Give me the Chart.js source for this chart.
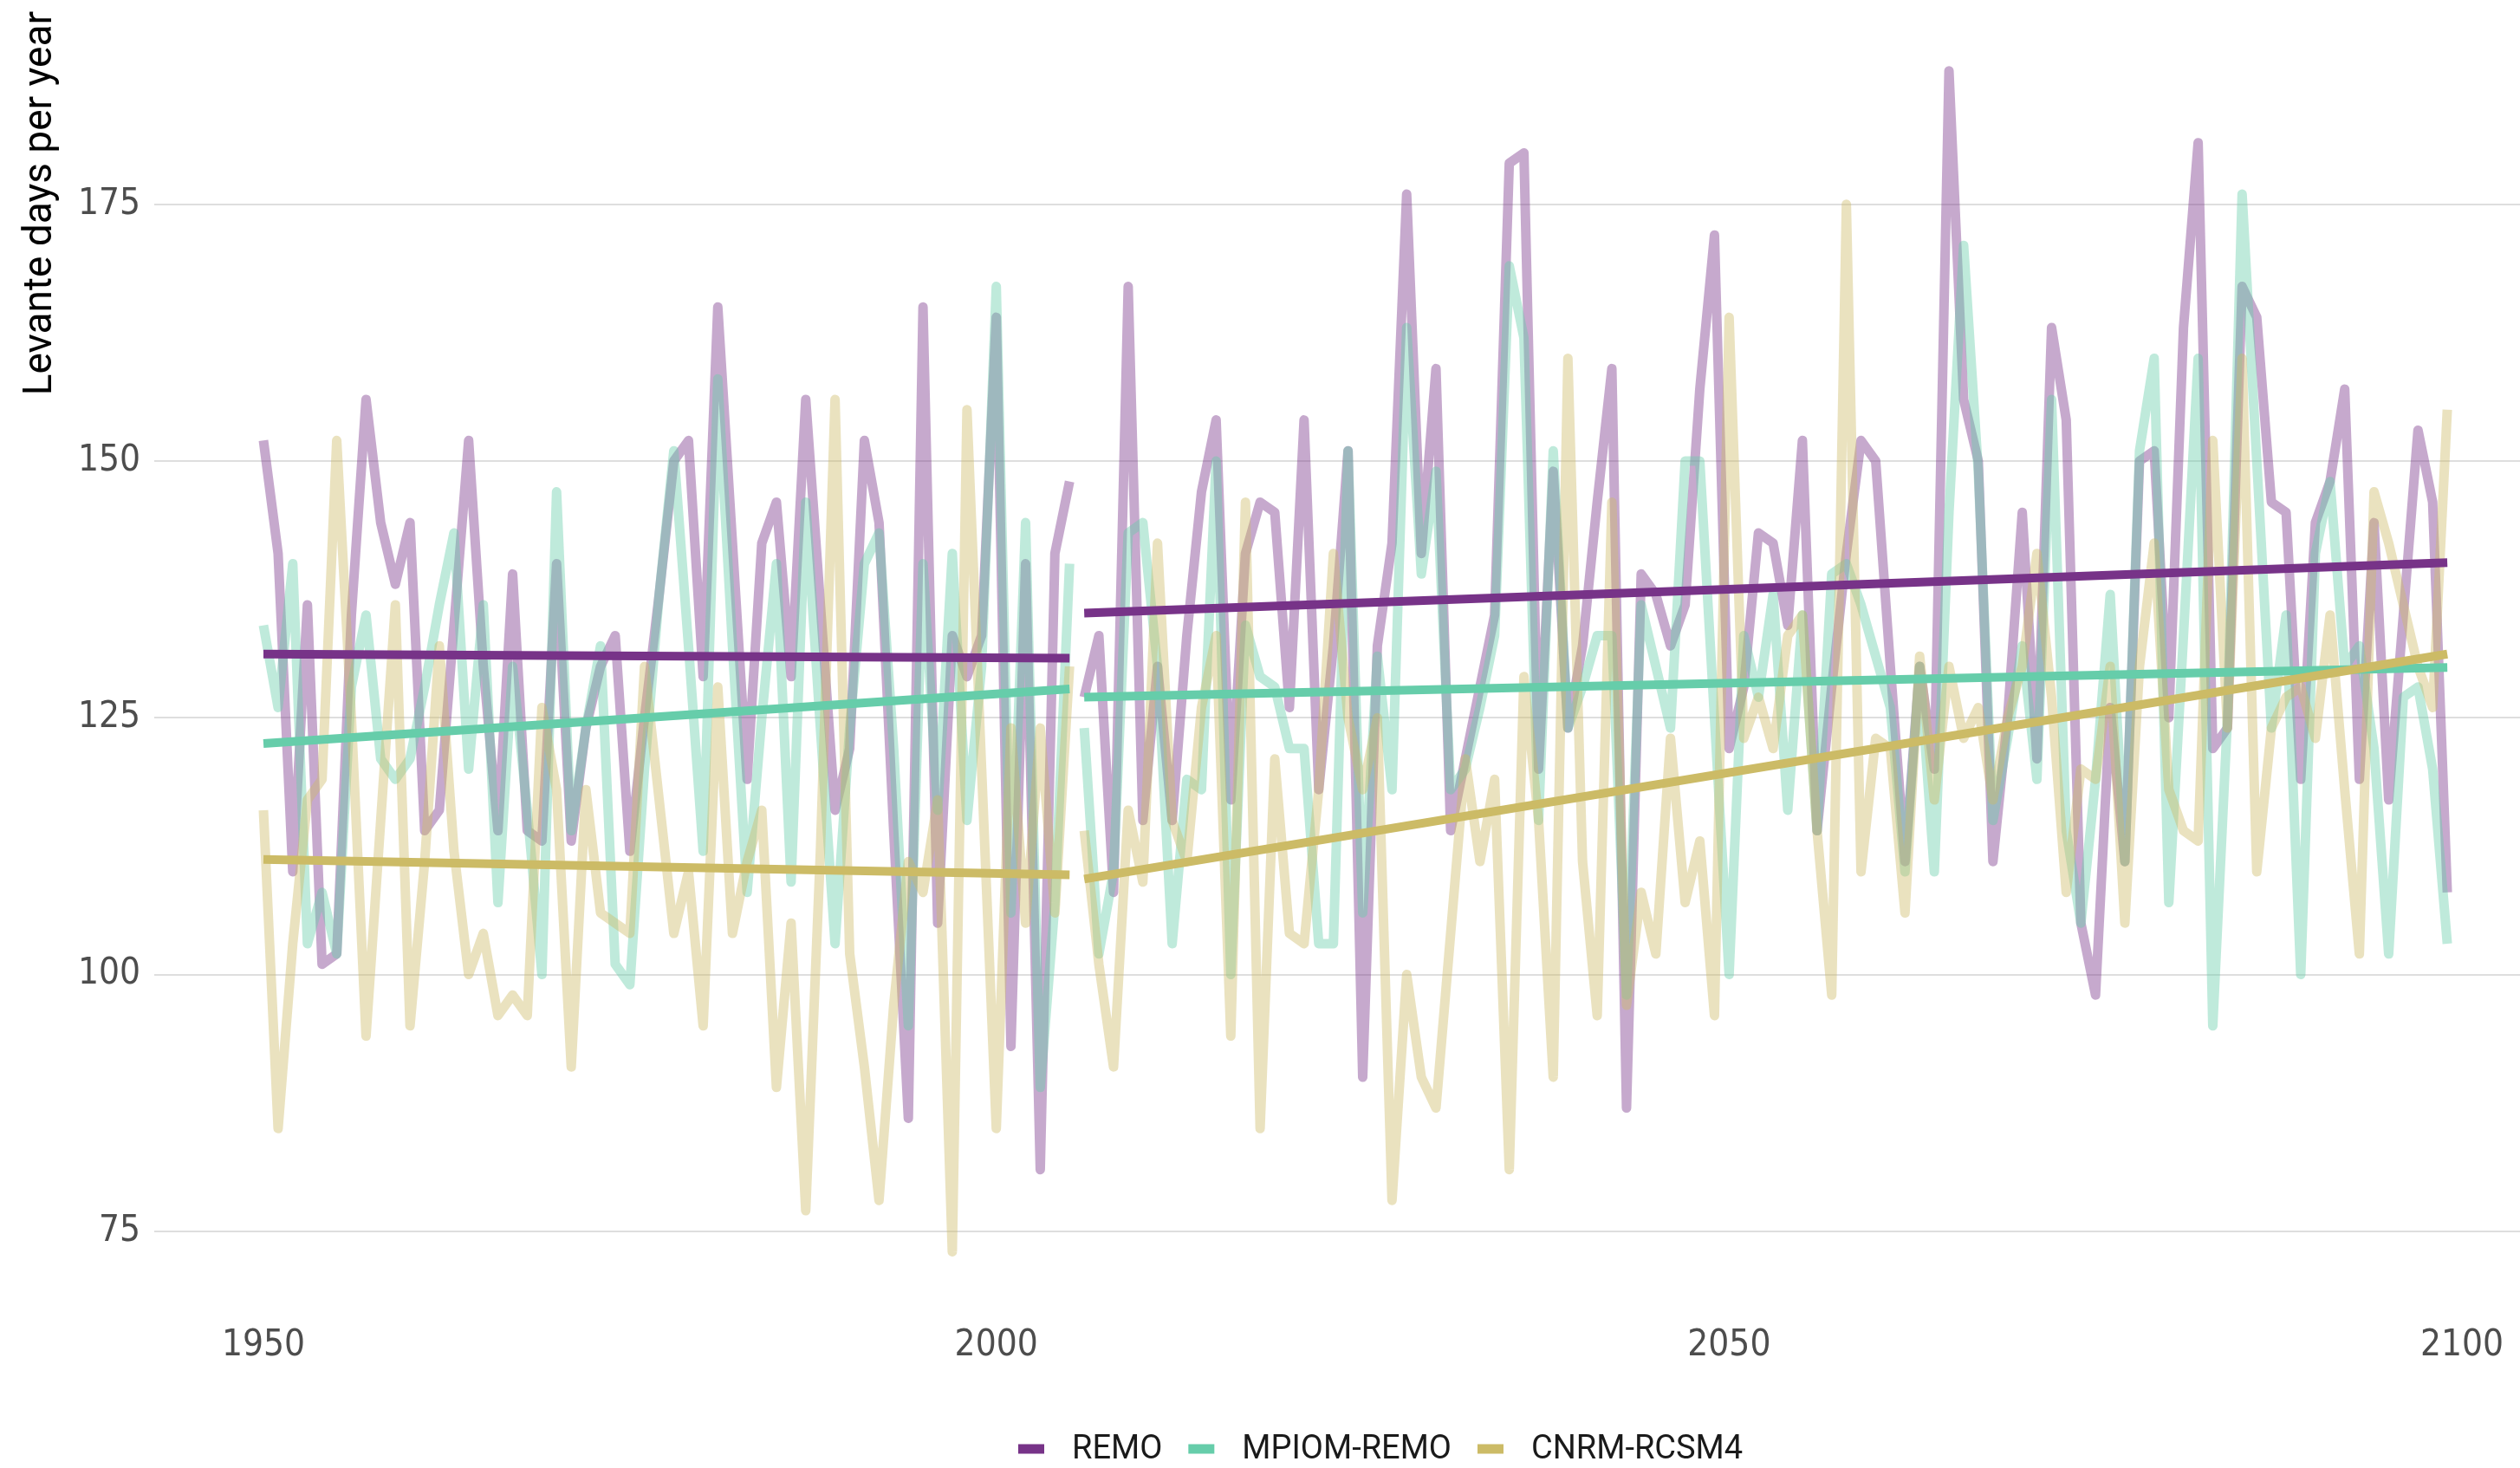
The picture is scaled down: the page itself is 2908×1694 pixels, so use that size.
<!DOCTYPE html>
<html>
<head>
<meta charset="utf-8">
<script src="https://cdn.jsdelivr.net/npm/chart.js@4.4.1/dist/chart.umd.min.js"></script>
<style>
  html, body { margin: 0; padding: 0; background: #ffffff; }
  #wrap { position: relative; width: 2908px; height: 1694px; }
</style>
</head>
<body>
<div id="wrap"><canvas id="c"></canvas></div>
<script>
// ---------- DATA ----------
const seriesNames = ['REMO', 'MPIOM-REMO', 'CNRM-RCSM4'];
const histStartYear = 1950;   // historical runs 1950-2005
const futureStartYear = 2006; // scenario runs 2006-2099
const xTickValues = [1950, 2000, 2050, 2100];
const yTickValues = [75, 100, 125, 150, 175];
const yAxisTitle = 'Levante days per year';

const remoHist = [152,141,110,136,101,102,135,156,144,138,144,114,116,134,152,130,114,139,114,113,
  140,113,124,130,133,112,125,137,150,152,129,165,142,119,142,146,129,156,136,116,
  122,152,144,114,86,165,105,133,129,133,164,93,140,81,141,148];
const mpiomHist = [134,126,140,103,108,102,128,135,121,119,121,128,136,143,120,136,107,130,116,100,
  147,114,124,132,101,99,120,137,151,132,112,158,132,108,125,140,109,146,124,103,
  124,140,143,122,95,140,116,141,115,130,167,106,144,89,107,140];
const cnrmHist = [116,85,103,117,119,152,125,94,115,136,95,111,132,112,100,104,96,98,96,126,
  118,91,118,106,105,104,130,117,104,110,95,128,104,111,116,89,105,77,112,156,
  102,91,78,97,111,108,117,73,155,120,85,124,105,124,106,130];

const remoFuture = [127,133,108,167,115,130,115,133,147,154,117,141,146,145,126,154,118,132,151,90,
  132,142,176,141,159,114,121,128,135,179,180,120,149,124,132,146,159,87,139,137,
  132,136,157,172,122,128,143,142,134,152,114,128,141,152,150,130,111,130,120,188,
  156,150,111,125,145,121,163,154,105,98,126,111,150,151,125,163,181,122,124,167,
  164,146,145,119,144,148,157,119,144,117,135,153,146,108];
const mpiomFuture = [124,102,110,143,144,130,103,119,118,150,100,134,129,128,122,122,103,103,151,106,
  131,118,163,139,149,118,120,126,133,169,162,115,151,124,128,133,133,98,136,130,
  124,150,150,125,100,133,127,137,116,135,114,139,140,136,131,126,110,130,110,145,
  171,149,115,123,132,119,156,114,105,119,137,111,151,160,107,133,160,95,125,176,
  150,124,135,100,141,148,130,132,122,102,127,128,120,103];
const cnrmFuture = [114,101,91,116,109,142,115,111,126,133,94,146,85,121,104,103,118,141,125,118,
  125,78,100,90,87,104,121,111,119,81,129,115,90,160,111,96,146,97,108,102,
  123,107,113,96,164,123,127,122,133,135,114,98,175,110,123,122,106,131,117,130,
  123,126,117,125,130,141,127,108,120,119,130,105,130,142,118,114,113,152,124,160,
  110,124,127,128,123,135,118,102,147,142,136,130,126,155];

// linear trend lines, endpoints
const trendHistYears = [1950, 2005];
const trendFutureYears = [2006, 2099];
const remoTrendHist = [131.2, 130.8];
const remoTrendFuture = [135.2, 140.1];
const mpiomTrendHist = [122.5, 127.8];
const mpiomTrendFuture = [127.0, 129.9];
const cnrmTrendHist = [111.2, 109.7];
const cnrmTrendFuture = [109.3, 131.2];

// ---------- STYLE ----------
const colors = { 'REMO': [119, 51, 136], 'MPIOM-REMO': [102, 205, 170], 'CNRM-RCSM4': [204, 187, 102] };
const rgba = (c, a) => `rgba(${c[0]},${c[1]},${c[2]},${a})`;
const NOISE_ALPHA = 0.42;

function yearly(startYear, values) {
  return values.map((v, i) => ({ x: startYear + i, y: v }));
}
function pairs(years, values) {
  return years.map((yr, i) => ({ x: yr, y: values[i] }));
}
function lineDs(label, data, color, width) {
  return {
    label, data,
    borderColor: color, backgroundColor: color,
    borderWidth: width, pointRadius: 0, pointHoverRadius: 0,
    tension: 0, fill: false,
    borderJoinStyle: 'round', borderCapStyle: 'butt'
  };
}

const raw = {
  'REMO': [remoHist, remoFuture, remoTrendHist, remoTrendFuture],
  'MPIOM-REMO': [mpiomHist, mpiomFuture, mpiomTrendHist, mpiomTrendFuture],
  'CNRM-RCSM4': [cnrmHist, cnrmFuture, cnrmTrendHist, cnrmTrendFuture]
};

// index 0 is drawn on top: trend lines first (CNRM topmost), then noisy series
const datasets = [];
['CNRM-RCSM4', 'MPIOM-REMO', 'REMO'].forEach(name => {
  const r = raw[name];
  datasets.push(lineDs(name + ' trend hist', pairs(trendHistYears, r[2]), rgba(colors[name], 1), 10));
  datasets.push(lineDs(name + ' trend future', pairs(trendFutureYears, r[3]), rgba(colors[name], 1), 10));
});
['CNRM-RCSM4', 'MPIOM-REMO', 'REMO'].forEach(name => {
  const r = raw[name];
  datasets.push(lineDs(name + ' hist', yearly(histStartYear, r[0]), rgba(colors[name], NOISE_ALPHA), 11));
  datasets.push(lineDs(name + ' future', yearly(futureStartYear, r[1]), rgba(colors[name], NOISE_ALPHA), 11));
});

// ---------- PLUGINS (title + legend) ----------
const decorPlugin = {
  id: 'decor',
  afterDraw(chart) {
    const ctx = chart.ctx;
    // rotated y-axis title, aligned to the top
    ctx.save();
    ctx.translate(47, 13);
    ctx.rotate(-Math.PI / 2);
    ctx.font = '46px Roboto, "Liberation Sans", sans-serif';
    ctx.fillStyle = '#000000';
    ctx.textAlign = 'right';
    ctx.textBaseline = 'middle';
    ctx.fillText(yAxisTitle, 0, 0);
    ctx.restore();

    // legend at the bottom
    ctx.save();
    ctx.font = '38px Roboto, "Liberation Sans", sans-serif';
    ctx.textBaseline = 'middle';
    ctx.textAlign = 'left';
    const yMid = 1672;
    let x = 1175;
    seriesNames.forEach(name => {
      ctx.fillStyle = rgba(colors[name], 1);
      ctx.fillRect(x, yMid - 5.5, 30, 11);
      ctx.fillStyle = '#1a1a1a';
      const tx = x + 62;
      ctx.fillText(name, tx, yMid + 1);
      x = tx + ctx.measureText(name).width + 30;
    });
    ctx.restore();
  }
};

const tickFont = { family: '"DejaVu Sans Condensed", "DejaVu Sans", sans-serif', size: 42 };

new Chart(document.getElementById('c'), {
  type: 'line',
  data: { datasets },
  options: {
    responsive: true,
    maintainAspectRatio: false,
    animation: false,
    events: [],
    layout: { padding: { top: 13, left: 0, right: 0, bottom: 0 } },
    plugins: { legend: { display: false }, tooltip: { enabled: false } },
    scales: {
      x: {
        type: 'linear',
        min: 1942.55,
        max: 2103.96,
        grid: { display: false },
        border: { display: false },
        ticks: {
          font: tickFont, color: '#4d4d4d', padding: 8, maxRotation: 0,
          callback: v => String(v)
        },
        afterBuildTicks: s => { s.ticks = xTickValues.map(v => ({ value: v })); },
        afterFit: s => { s.height = 182; s.paddingLeft = 0; s.paddingRight = 0; s.paddingTop = 0; s.paddingBottom = 0; }
      },
      y: {
        type: 'linear',
        min: 67.3,
        max: 193.8,
        grid: { color: '#dedede', lineWidth: 2, drawTicks: false },
        border: { display: false },
        ticks: {
          font: tickFont, color: '#4d4d4d', padding: 16,
          callback: v => String(v)
        },
        afterBuildTicks: s => { s.ticks = yTickValues.map(v => ({ value: v })); },
        afterFit: s => { s.width = 178; s.paddingTop = 0; s.paddingBottom = 0; s.paddingLeft = 0; s.paddingRight = 0; }
      }
    }
  },
  plugins: [decorPlugin]
});
</script>
</body>
</html>
